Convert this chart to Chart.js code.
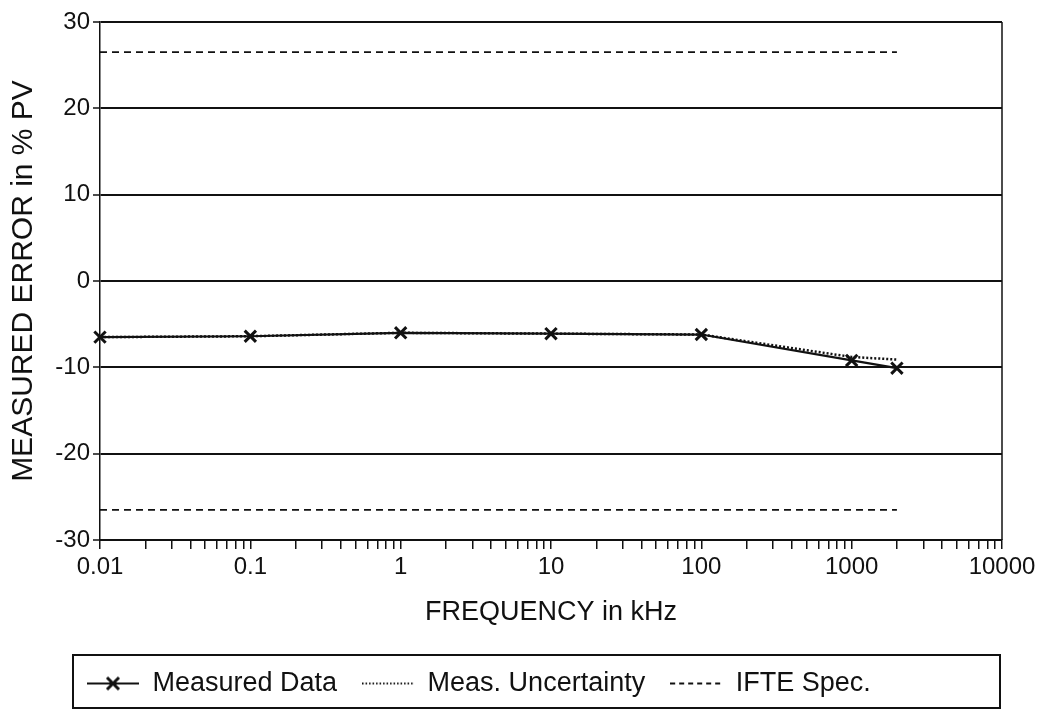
<!DOCTYPE html>
<html>
<head>
<meta charset="utf-8">
<script src="https://cdn.jsdelivr.net/npm/chart.js@4.4.1/dist/chart.umd.min.js"></script>
<style>
html, body { margin: 0; padding: 0; background: #fff; }
#caja { width: 1049px; height: 710px; }
</style>
</head>
<body>
<div id="caja"><canvas id="MiGrafica"></canvas></div>
<script>
let frequencies = [0.01, 0.1, 1, 10, 100, 1000, 2000];
let measuredData = [-6.5, -6.4, -6.0, -6.1, -6.2, -9.2, -10.1];
let measUncertainty = [-6.5, -6.4, -6.0, -6.1, -6.2, -8.8, -9.1];
let specFrequencies = [0.01, 2000];
let specUpper = [26.5, 26.5];
let specLower = [-26.5, -26.5];
let xTickLabels = ["0.01", "0.1", "1", "10", "100", "1000", "10000"];
let minorSteps = [2, 3, 4, 5, 6, 7, 8, 9];
let legendLabels = ["Measured Data", "Meas. Uncertainty", "IFTE Spec."];

let fuente = "'Liberation Sans', Arial, sans-serif";
let negro = "#111";

let decades = xTickLabels.map(Number);
let xTickValues = [];
decades.forEach((d, i) => {
    xTickValues.push(d);
    if (i < decades.length - 1) minorSteps.forEach(m => xTickValues.push(d * m));
});

function pares(xs, ys) {
    return xs.map((x, i) => ({ x: x, y: ys[i] }));
}

// muestras de la leyenda
function muestra(tipo) {
    let c = document.createElement("canvas");
    c.width = 52; c.height = 18;
    let g = c.getContext("2d");
    g.strokeStyle = negro;
    g.lineWidth = 2;
    if (tipo == "punto") g.setLineDash([1.5, 2]);
    if (tipo == "raya") g.setLineDash([5, 4]);
    g.beginPath(); g.moveTo(0, 9); g.lineTo(52, 9); g.stroke();
    if (tipo == "cruz") {
        g.setLineDash([]);
        g.lineWidth = 3;
        g.beginPath();
        g.moveTo(20, 3); g.lineTo(32, 15);
        g.moveTo(32, 3); g.lineTo(20, 15);
        g.stroke();
    }
    return c;
}
let muestras = [muestra("cruz"), muestra("punto"), muestra("raya")];

let marcoPlugin = {
    id: "marco",
    afterLayout(chart) {
        let lg = chart.legend;
        lg.left += 58; lg.right += 58;
        lg.top -= 3; lg.bottom -= 3;
    },
    afterDraw(chart) {
        let ctx = chart.ctx, a = chart.chartArea;
        ctx.save();
        ctx.strokeStyle = negro;
        ctx.lineWidth = 1.5;
        ctx.beginPath();
        ctx.moveTo(a.right, a.top); ctx.lineTo(a.right, a.bottom);
        ctx.stroke();
        ctx.lineWidth = 2;
        ctx.strokeRect(73, 655, 927, 53);
        ctx.restore();
    }
};

let miCanvas = document.getElementById("MiGrafica").getContext("2d");

var chart = new Chart(miCanvas, {
    type: "line",
    data: {
        datasets: [
            {
                label: legendLabels[0],
                data: pares(frequencies, measuredData),
                borderColor: negro,
                borderWidth: 2.2,
                pointStyle: "crossRot",
                pointRadius: 8,
                pointBorderWidth: 3,
                pointBorderColor: negro,
                tension: 0,
                clip: false
            },
            {
                label: legendLabels[1],
                data: pares(frequencies, measUncertainty),
                borderColor: negro,
                borderWidth: 2.5,
                borderDash: [2, 2],
                pointRadius: 0,
                tension: 0
            },
            {
                label: legendLabels[2],
                data: pares(specFrequencies, specUpper),
                borderColor: negro,
                borderWidth: 1.8,
                borderDash: [7, 5],
                pointRadius: 0
            },
            {
                label: legendLabels[2],
                data: pares(specFrequencies, specLower),
                borderColor: negro,
                borderWidth: 1.8,
                borderDash: [7, 5],
                pointRadius: 0
            }
        ]
    },
    options: {
        responsive: true,
        maintainAspectRatio: false,
        animation: false,
        layout: { padding: { top: 22, left: 4, right: 47, bottom: 0 } },
        scales: {
            x: {
                type: "logarithmic",
                min: 0.01,
                max: 10000,
                afterBuildTicks: scale => {
                    scale.ticks = xTickValues.map(v => ({ value: v }));
                },
                afterFit: scale => { scale.height = 108; },
                grid: {
                    drawOnChartArea: false,
                    drawTicks: true,
                    tickLength: 9,
                    color: negro,
                    lineWidth: 1.5
                },
                border: { display: true, color: negro, width: 2 },
                ticks: {
                    autoSkip: false,
                    maxRotation: 0,
                    padding: 4,
                    color: negro,
                    font: { family: fuente, size: 24 },
                    callback: value => {
                        let i = decades.findIndex(d => Math.abs(Math.log10(d) - Math.log10(value)) < 1e-9);
                        return i >= 0 ? xTickLabels[i] : "";
                    }
                },
                title: {
                    display: true,
                    text: "FREQUENCY in kHz",
                    color: negro,
                    font: { family: fuente, size: 27 },
                    padding: { top: 0, bottom: 19 }
                }
            },
            y: {
                min: -30,
                max: 30,
                afterFit: scale => { scale.width = 96; },
                grid: {
                    color: negro,
                    lineWidth: 2,
                    drawTicks: true,
                    tickLength: 7,
                    tickColor: negro,
                    tickWidth: 1.5
                },
                border: { display: true, color: negro, width: 1.5 },
                ticks: {
                    stepSize: 10,
                    padding: 3,
                    color: negro,
                    font: { family: fuente, size: 24 }
                },
                title: {
                    display: true,
                    text: "MEASURED ERROR in % PV",
                    color: negro,
                    font: { family: fuente, size: 30 },
                    padding: { top: 2, bottom: 0 }
                }
            }
        },
        plugins: {
            tooltip: { enabled: false },
            legend: {
                position: "bottom",
                align: "start",
                labels: {
                    usePointStyle: true,
                    pointStyleWidth: 52,
                    padding: 25,
                    color: negro,
                    font: { family: fuente, size: 27 },
                    generateLabels: () => legendLabels.map((t, i) => ({
                        text: t,
                        pointStyle: muestras[i],
                        lineWidth: 1,
                        strokeStyle: negro,
                        fillStyle: negro,
                        fontColor: negro,
                        hidden: false,
                        datasetIndex: i
                    }))
                }
            }
        }
    },
    plugins: [marcoPlugin]
});
</script>
</body>
</html>
